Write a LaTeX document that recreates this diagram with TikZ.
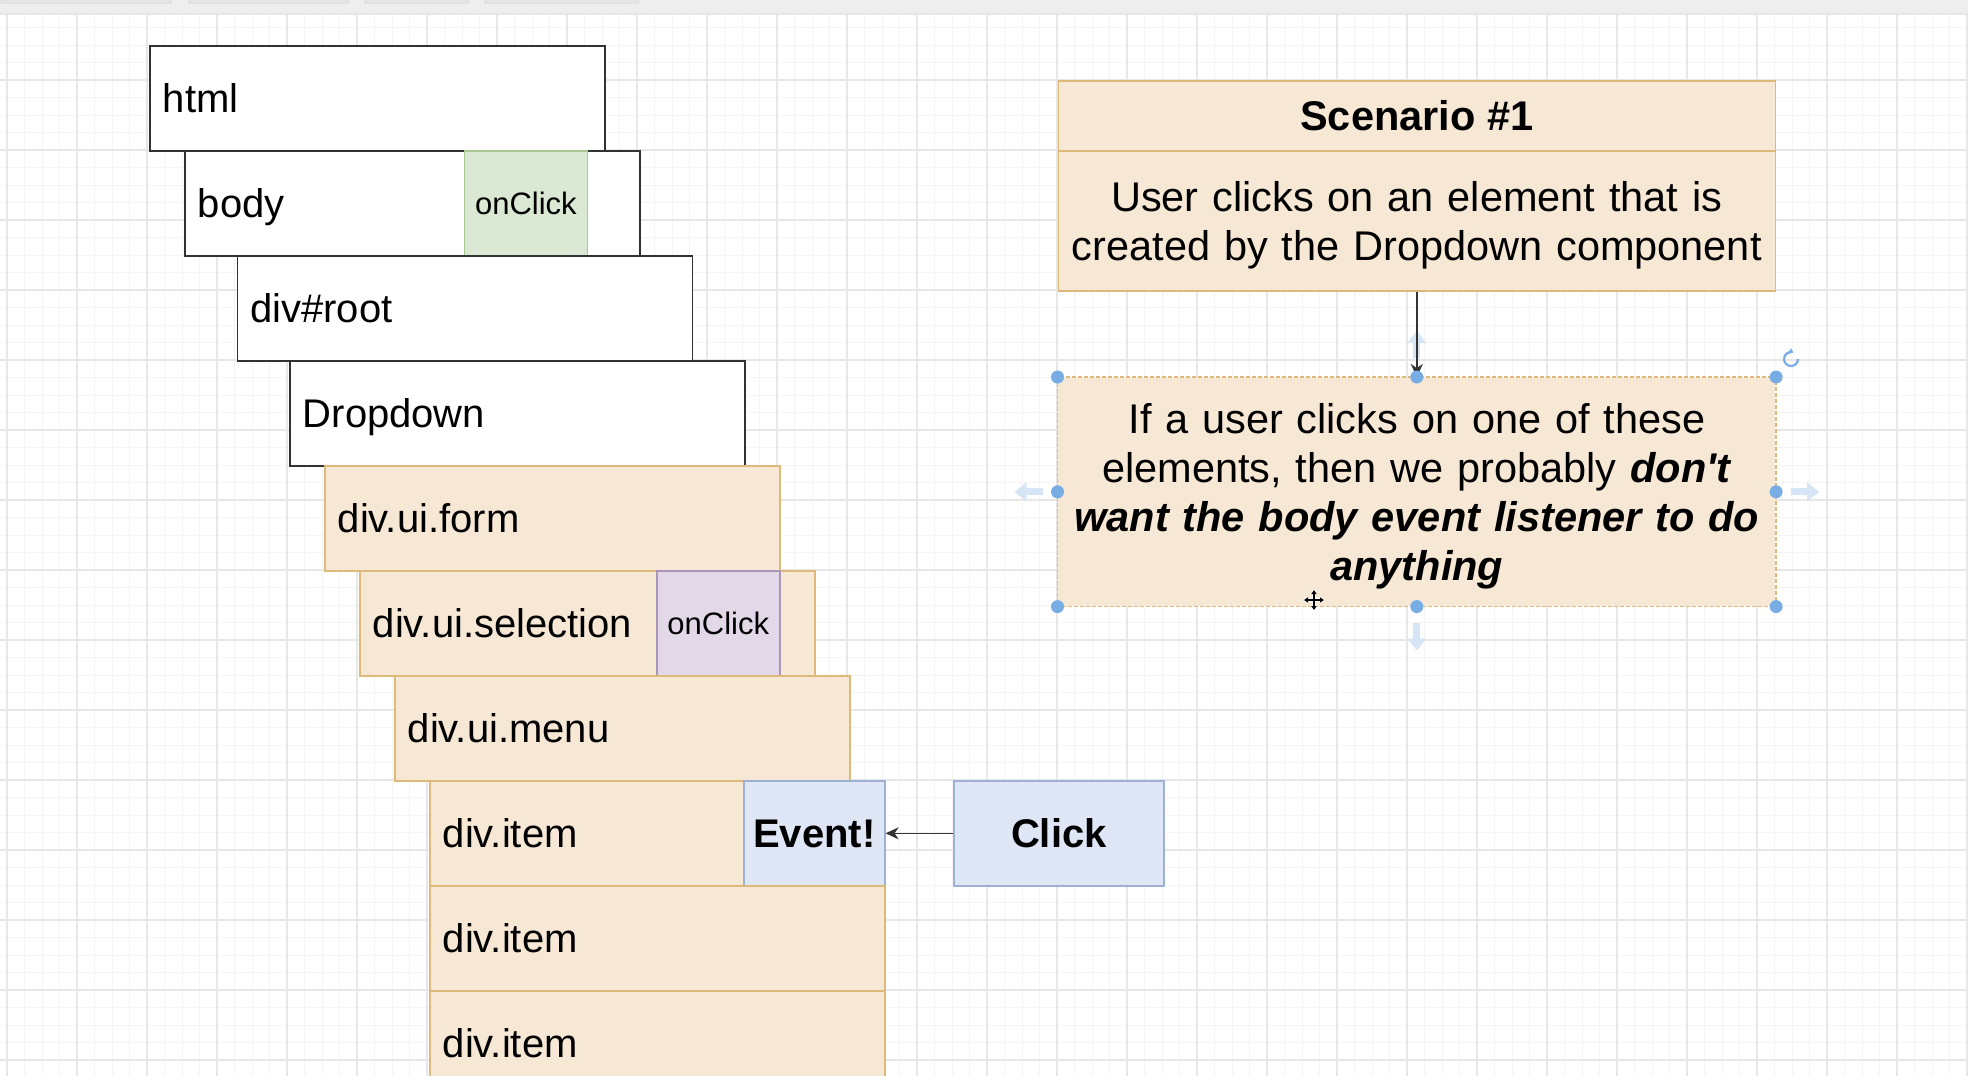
\documentclass[tikz,border=0pt]{standalone}
\usepackage{fontspec}
\setmainfont{Liberation Sans}
\usetikzlibrary{arrows.meta}
\definecolor{orangefill}{RGB}{247,232,214}
\definecolor{orangeline}{RGB}{222,186,122}
\definecolor{greenfill}{RGB}{218,232,212}
\definecolor{greenline}{RGB}{168,199,148}
\definecolor{purplefill}{RGB}{226,216,232}
\definecolor{purpleline}{RGB}{170,150,184}
\definecolor{bluefill}{RGB}{223,231,247}
\definecolor{blueline}{RGB}{158,176,212}
\definecolor{boxline}{RGB}{50,50,50}
\definecolor{gridminor}{RGB}{244,244,244}
\definecolor{gridmajor}{RGB}{231,231,231}
\definecolor{handleblue}{RGB}{120,172,228}
\definecolor{hoverblue}{RGB}{214,229,245}
\definecolor{topbar}{RGB}{238,238,238}
\definecolor{tabfill}{RGB}{228,228,228}
\newcommand\lblfont{\fontsize{40}{47}\selectfont}
\newcommand\smallfont{\fontsize{31}{37}\selectfont}
\newcommand\rightfont{\fontsize{41.5}{49}\selectfont}
\tikzset{
  layer/.style={anchor=north west, line width=1.6pt, minimum width=455pt, minimum height=105pt,
    text width=429pt, inner xsep=13pt, inner ysep=0pt, align=left, font=\lblfont,
    text height=28.5pt, text depth=0pt},
  whitebox/.style={layer, draw=boxline, fill=white},
  orangebox/.style={layer, draw=orangeline, fill=orangefill},
  handlerbox/.style={anchor=north west, line width=1.6pt, minimum width=123pt, minimum height=105pt,
    inner sep=0pt, font=\smallfont, text height=23pt, text depth=0pt},
  greenbox/.style={handlerbox, draw=greenline, fill=greenfill},
  purplebox/.style={handlerbox, draw=purpleline, fill=purplefill},
  bluebox/.style={anchor=north west, line width=1.6pt, minimum height=105pt, inner sep=0pt,
    draw=blueline, fill=bluefill, font=\lblfont\bfseries, text height=28.5pt, text depth=0pt},
  scenbox/.style={anchor=north west, line width=1.6pt, draw=orangeline, fill=orangefill,
    minimum width=717pt, inner sep=0pt, font=\rightfont, align=center},
  scentext/.style={inner sep=0pt, font=\rightfont, align=center, text width=710pt},
  arrowline/.style={draw=black!80, line width=1.5pt, -{Stealth[length=13pt,width=12pt,inset=4pt]}},
  hoverarrow/.style={draw=hoverblue, line width=7pt, -{Triangle[length=12pt,width=18pt]}},
  handle/.style={fill=handleblue},
  minorline/.style={draw=gridminor, line width=1pt},
  majorline/.style={draw=gridmajor, line width=1.6pt}
}
\begin{document}
\begin{tikzpicture}[x=1pt,y=-1pt]
\path[use as bounding box, clip] (0,0) rectangle (1968,1076);
\fill[white] (0,0) rectangle (1968,1076);
% grid
\foreach \k in {0,...,113} \draw[minorline] ({-10.5+17.5*\k},14) -- ({-10.5+17.5*\k},1076);
\foreach \k in {1,...,62} \draw[minorline] (0,{10+17.5*\k}) -- (1968,{10+17.5*\k});
\foreach \k in {0,...,28} \draw[majorline] ({7+70*\k},14) -- ({7+70*\k},1076);
\foreach \k in {1,...,15} \draw[majorline] (0,{10+70*\k}) -- (1968,{10+70*\k});
% top bar
\fill[topbar] (0,0) rectangle (1968,13);
\draw[gridmajor, line width=2pt] (0,13.5) -- (1968,13.5);
\foreach \a/\b in {0/172,188/349,364/469,484/639}
  \draw[fill=tabfill, draw=black!18, rounded corners=2pt] (\a,-3) rectangle (\b,3.5);
% stacked elements
\node[whitebox] (html) at (149,45) {html};
\node[whitebox] (body) at (184,150) {body};
\node[greenbox] (bodyclick) at (463.6,150) {onClick};
\node[whitebox] (root) at (236.5,255) {div\#root};
\node[whitebox] (dropdown) at (289,360) {Dropdown};
\node[orangebox] (form) at (324,465) {div.ui.form};
\node[orangebox] (selection) at (359,570) {div.ui.selection};
\node[purplebox] (selclick) at (656,570) {onClick};
\node[orangebox] (menu) at (394,675) {div.ui.menu};
\node[orangebox] (item1) at (429,780) {div.item};
\node[bluebox, minimum width=141pt] (event) at (743,780) {Event!};
\node[orangebox] (item2) at (429,885) {div.item};
\node[orangebox] (item3) at (429,990) {div.item};
\node[bluebox, minimum width=210pt] (click) at (953,780) {Click};
\draw[arrowline] (click.west) -- (event.east);
% scenario
\node[scenbox, minimum height=70pt, text height=30pt, text depth=0pt] (schead) at (1057.5,80) {\bfseries Scenario \#1};
\node[scenbox, minimum height=140pt] (scbody) at (1057.5,150) {};
\node[scentext] (scbodytext) at ([yshift=-4.5pt]scbody.center)
  {User clicks on an element that is\\created by the Dropdown component};
\node[scenbox, draw=none, minimum height=228pt] (note) at (1057.5,377) {};
\node[scentext] (notetext) at ([yshift=-4pt]note.center)
  {If a user clicks on one of these\\elements, then we probably \textbf{\textit{don\textquotesingle t}}\\
   \textbf{\textit{want the body event listener to do}}\\\textbf{\textit{anything}}};
\draw[orangeline, line width=1.4pt, dash pattern=on 4pt off 2pt] (note.north west) rectangle (note.south east);
% hover arrows
\draw[hoverarrow] (note.west) ++(-15,0) -- ++(-28,0);
\draw[hoverarrow] (note.east) ++(15,0) -- ++(28,0);
\draw[hoverarrow] (note.north) ++(0,-19) -- ++(0,-27);
\draw[hoverarrow] (note.south) ++(0,16) -- ++(0,28);
\draw[arrowline] (scbody.south) -- (note.north);
% selection handles
\foreach \p in {north west,north,north east,west,east,south west,south,south east}
  \fill[handle] (note.\p) circle (6.5pt);
% rotate icon
\draw[handleblue, line width=2.2pt, -{Triangle[length=4pt,width=6pt]}] (1798,359) arc[start angle=0, end angle=290, radius=7];
% move cursor
\begin{scope}[shift={(1314,600)}]
  \draw[white, line width=4pt] (-10,0) -- (10,0) (0,-10) -- (0,10);
  \draw[black, line width=1.3pt, {Triangle[length=4pt,width=5pt]}-{Triangle[length=4pt,width=5pt]}] (-10,0) -- (10,0);
  \draw[black, line width=1.3pt, {Triangle[length=4pt,width=5pt]}-{Triangle[length=4pt,width=5pt]}] (0,-10) -- (0,10);
\end{scope}
\end{tikzpicture}
\end{document}
